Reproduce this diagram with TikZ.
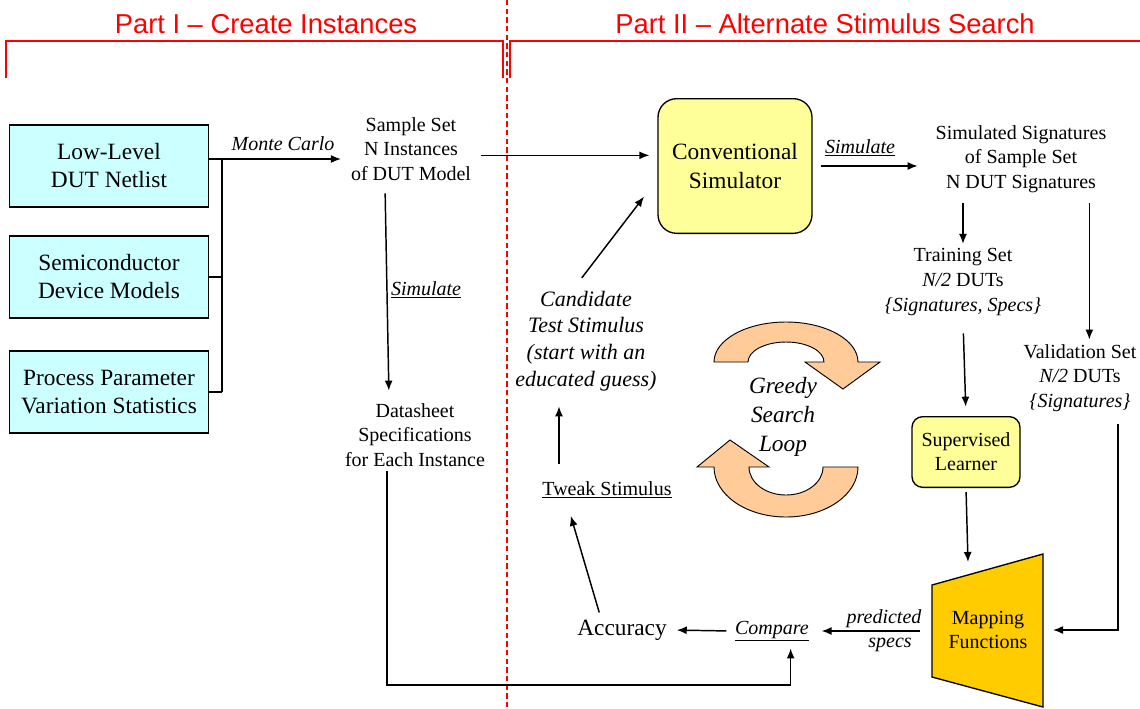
\documentclass[tikz,border=0pt]{standalone}
\usepackage{fontspec}
\setmainfont{Liberation Serif}
\newfontfamily\partfont{Liberation Sans}
\usepackage{xcolor}
\definecolor{Part-red}{RGB}{255, 0, 0}
\definecolor{Box-cyan}{RGB}{204, 255, 255}
\definecolor{Box-yellow}{RGB}{255, 255, 153}
\definecolor{Map-gold}{RGB}{255, 204, 0}
\definecolor{Loop-peach}{RGB}{255, 204, 153}
\usetikzlibrary{arrows.meta,positioning,calc}

\begin{document}
\begin{tikzpicture} [ % styles first
    x=0.75pt, y=-0.75pt, line width=1.1pt, >={Latex[length=7.5pt,width=6pt]},
    part/.style = {inner sep=0pt, text=Part-red, font=\partfont\fontsize{20.5}{24}\selectfont},
    partbr/.style = {draw=Part-red, line width=1.2pt},
    inbox/.style = {shape=rectangle, minimum width=149pt, minimum height=61.5pt, align=center, fill=Box-cyan, draw=black, line width=1pt, font=\fontsize{17.5}{21}\selectfont},
    simbox/.style = {shape=rectangle, rounded corners=14pt, minimum width=115.5pt, minimum height=101pt, align=center, fill=Box-yellow, draw=black, line width=1pt, font=\fontsize{17.5}{22}\selectfont},
    learnbox/.style = {shape=rectangle, rounded corners=8pt, minimum width=81pt, minimum height=53pt, align=center, fill=Box-yellow, draw=black, line width=1pt, font=\fontsize{15}{18}\selectfont},
    txt/.style = {align=center, inner sep=3pt, font=\fontsize{15}{18.5}\selectfont},
    itxt/.style = {align=center, inner sep=3pt, font=\itshape\fontsize{15}{18.5}\selectfont},
    bigtxt/.style = {align=center, inner sep=3pt, font=\fontsize{17.5}{21}\selectfont},
    loop/.style = {fill=Loop-peach, draw=black, line width=0.7pt}
]

\useasboundingbox (0,0) rectangle (1140,708);

% part headers
\node [part] (p1) at (266,24){Part I – Create Instances};
\node [part] (p2) at (825,24){Part II – Alternate Stimulus Search};
\draw [partbr] (6,78)--(6,41)--(503,41)--(503,78);
\draw [partbr] (510,78)--(510,41)--(1140,41);
\draw [Part-red, dashed, dash pattern=on 4pt off 2.5pt, line width=1.1pt] (507,0)--(507,708);

% left boxes
\node [inbox] (net) at (109,166){Low-Level\\DUT Netlist};
\node [inbox] (semi) at (109,277){Semiconductor\\Device Models};
\node [inbox] (proc) at (109,392){Process Parameter\\Variation Statistics};

% sample set and datasheet
\node [txt] (sample) at (411,149){Sample Set\\N Instances\\of DUT Model};
\node [txt] (data) at (415,435){Datasheet\\Specifications\\for Each Instance};
\node [itxt] (mc) at (283,144){Monte Carlo};
\node [itxt] (simA) at (426,290){\underline{Simulate}};

% simulator and signatures
\node [simbox] (sim) at (735,166){Conventional\\Simulator};
\coordinate (simIn) at ([yshift=8pt]sim.west);
\node [itxt] (simB) at (860,148){\underline{Simulate}};
\node [txt] (sig) at (1021,159){Simulated Signatures\\of Sample Set\\N DUT Signatures};
\node [txt] (train) at (963,282){Training Set\\\textit{N/2} DUTs\\\textit{\{Signatures, Specs\}}};
\node [txt] (val) at (1080,378){Validation Set\\\textit{N/2} DUTs\\\textit{\{Signatures\}}};
\node [learnbox] (sup) at (966,452){Supervised\\Learner};

% search loop
\node [itxt, font=\itshape\fontsize{16.5}{20}\selectfont] (cand) at (586,341){Candidate\\Test Stimulus\\(start with an\\educated guess)};
\node [itxt, font=\itshape\fontsize{17.5}{21.5}\selectfont] (greedy) at (783,417){Greedy\\Search\\Loop};
\node [txt] (tweak) at (607,490){\underline{Tweak Stimulus}};
\node [bigtxt] (acc) at (622,630){Accuracy};
\node [itxt] (cmp) at (772,631){\underline{Compare}};
\node [itxt] (pred) at (884,619){predicted};
\node [itxt] (specs) at (890,645){specs};

% mapping functions
\draw [fill=Map-gold, line width=1pt] (932,585)--(1043,554)--(1043,707)--(932,677)--cycle;
\node [txt] (map) at (988,630){Mapping\\Functions};
\coordinate (mapTop) at (968,562);
\coordinate (mapRight) at (1053,630);
\coordinate (mapLeft) at (920,631);

% loop arrows
\begin{scope}[shift={(786,362)}, x=0.75pt, y=0.75pt]
\draw [loop] (-72,0) arc[start angle=180, end angle=0, x radius=72, y radius=40]
  --(94,0)--(57,-27)--(19,0)--(38,0)
  arc[start angle=0, end angle=180, x radius=38, y radius=20]--cycle;
\end{scope}
\begin{scope}[shift={(786,467)}, x=0.75pt, y=0.75pt]
\draw [loop] (72,0) arc[start angle=0, end angle=-180, x radius=72, y radius=50]
  --(-89,0)--(-56,27)--(-17,0)--(-37,0)
  arc[start angle=180, end angle=360, x radius=37, y radius=28]--cycle;
\end{scope}

% bus lines
\coordinate (busTop) at (222,159);
\draw (net.east |- busTop)--(busTop)--(busTop |- proc.east);
\draw (semi.east)--(semi.east -| busTop);
\draw (proc.east)--(proc.east -| busTop);

% connectors
\draw [->, shorten >=4pt](busTop)--(sample.west |- busTop);
\draw [->, shorten <=6pt, shorten >=6pt]([xshift=-19.5pt]sample.south)--([xshift=-19.5pt]data.north);
\draw [->, shorten <=4pt, shorten >=6pt](sample.east |- simIn)--(simIn);
\draw [->, shorten <=6pt, shorten >=10pt](sim.east)--(sim.east -| sig.west);
\draw [->, shorten <=4pt](sig.south -| train.north)--(train.north);
\draw [->, shorten <=4pt](sig.south -| val.north)++(7pt,0)--([xshift=7pt]val.north);
\draw [->, shorten <=10pt, shorten >=7pt](train.south)--(sup.north);
\draw [->, shorten <=3pt](sup.south)--(mapTop);
\draw [->, shorten <=6pt]([xshift=28.5pt]val.south) |- (mapRight);
\draw [->, shorten >=6pt](mapLeft)--(cmp.east);
\draw [->, shorten <=3pt, shorten >=4pt](cmp.west)--(acc.east);
\coordinate (ret) at (387,685);
\draw [->, shorten >=2pt](data.south -| ret)--(ret) -| ([xshift=14pt]cmp.south);
\draw [->, shorten <=2pt, shorten >=10pt]([xshift=-16.5pt]acc.north)--([xshift=-30pt]tweak.south);
\draw [->, shorten <=10pt, shorten >=8pt]([xshift=-36pt]tweak.north)--([xshift=-36pt]tweak.north |- cand.south);
\draw [->, shorten <=8pt]([xshift=-8pt]cand.north)--([xshift=-10pt,yshift=-23pt]sim.west);

\end{tikzpicture}
\end{document}
